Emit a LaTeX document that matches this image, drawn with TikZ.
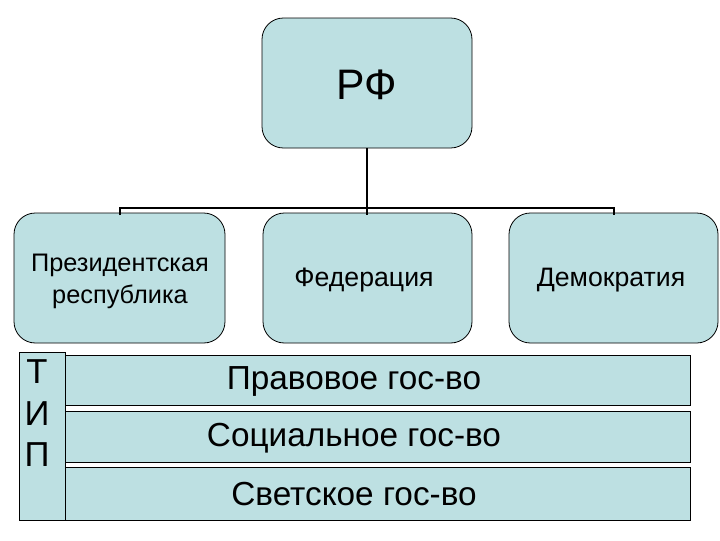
\documentclass[tikz,border=0pt]{standalone}
\usepackage{fontspec}
\setmainfont{Liberation Sans}
\definecolor{boxfill}{HTML}{BDE0E2}
\begin{document}
\begin{tikzpicture}[x=0.75pt,y=-0.75pt,
  rbox/.style={draw=black,fill=boxfill,rounded corners=16pt,line width=0.6pt,inner sep=0pt},
  sbox/.style={draw=black,fill=boxfill,line width=0.6pt},
  conn/.style={line width=2pt}]
\useasboundingbox (0,0) rectangle (720,540);
\draw[rbox] (262,18) rectangle (472,148);
\node (rf) at (367,85) {\fontsize{32}{36}\selectfont РФ};
\draw[rbox] (14,213) rectangle (225,343);
\node (p) at (120,281) {\fontsize{19}{24}\selectfont\begin{tabular}{c}Президентская\\республика\end{tabular}};
\draw[rbox] (263,213) rectangle (472,343);
\node (f) at (364,280) {\fontsize{20}{24}\selectfont Федерация};
\draw[rbox] (509,213) rectangle (718,343);
\node (d) at (611,280) {\fontsize{20}{24}\selectfont Демократия};
\coordinate (j) at (367,208);
\draw[conn] (367,148) -- (j);
\draw[line width=1.6pt] (120,215) -- (120,208) -- (614,208) -- (614,215);
\draw[line width=1.6pt] (367,208) -- (367,215);
\draw[sbox] (65,355) rectangle (690,405);
\node (r1) at (354,381) {\fontsize{25}{30}\selectfont Правовое гос-во};
\draw[sbox] (65,411) rectangle (690,462);
\node (r2) at (354,438) {\fontsize{25}{30}\selectfont Социальное гос-во};
\draw[sbox] (65,467) rectangle (690,520);
\node (r3) at (354,494) {\fontsize{25}{30}\selectfont Светское гос-во};
\draw[sbox] (19,352) rectangle (65,520);
\node (tip) at (37,417) {\fontsize{26}{31}\selectfont\begin{tabular}{c}Т\\И\\П\end{tabular}};
\end{tikzpicture}
\end{document}
